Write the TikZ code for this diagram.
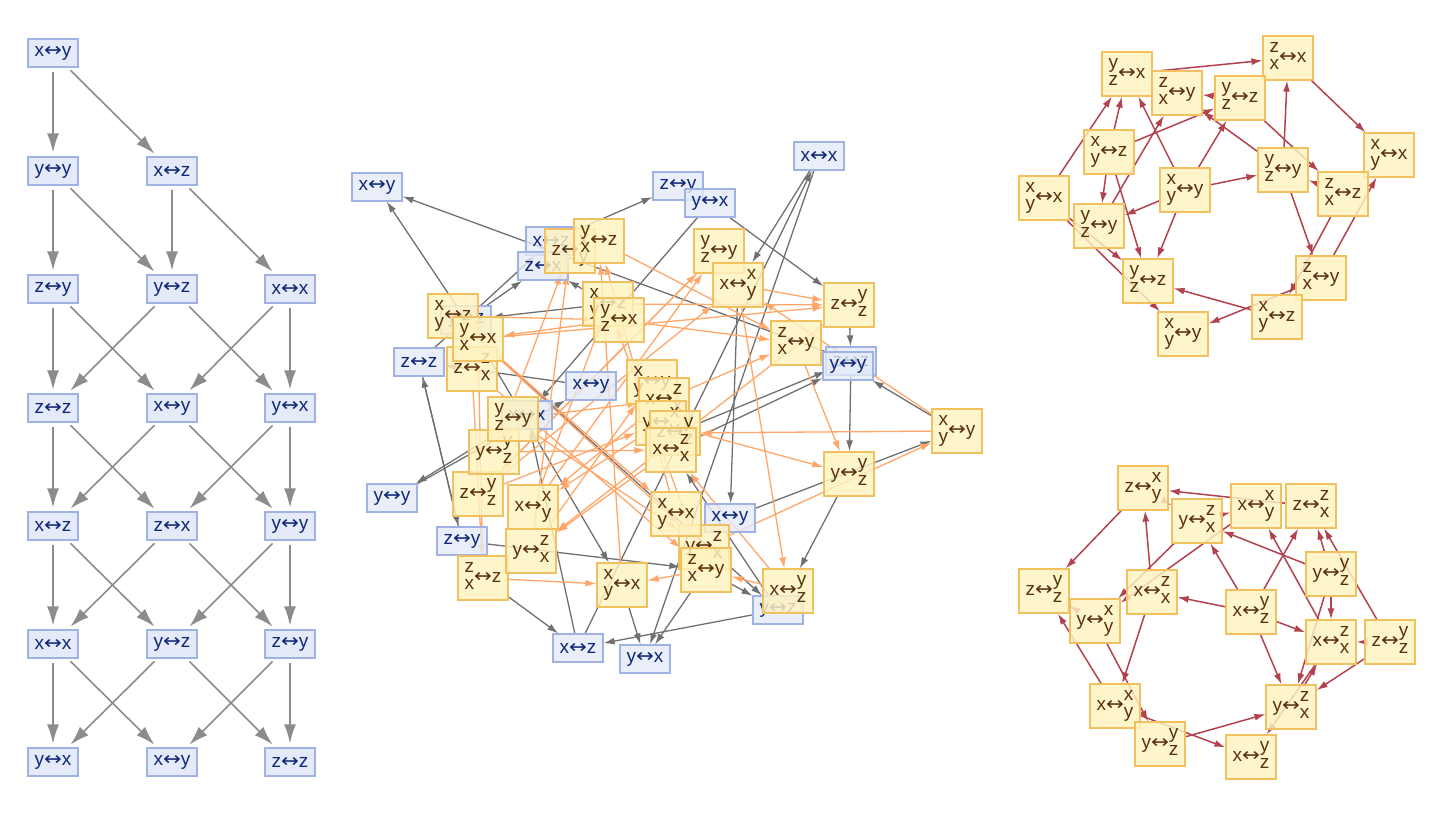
\documentclass[tikz,border=0pt]{standalone}
\usepackage{fontspec}
\setmainfont{Liberation Sans}
\newfontfamily\arrfont{DejaVu Sans}
\usetikzlibrary{arrows.meta,backgrounds}
\definecolor{bfill}{RGB}{228,234,248}
\definecolor{bline}{RGB}{160,178,228}
\definecolor{btext}{RGB}{16,40,120}
\definecolor{yfill}{RGB}{255,243,192}
\definecolor{yline}{RGB}{243,192,96}
\definecolor{ytext}{RGB}{90,50,15}
\definecolor{lgray}{RGB}{140,140,140}
\definecolor{mgray}{RGB}{112,112,112}
\definecolor{morange}{RGB}{255,166,104}
\definecolor{rred}{RGB}{178,66,78}
\newcommand{\stk}[2]{\begin{tabular}{@{}l@{}}#1\\#2\end{tabular}}
\catcode`↔=\active
\def↔{\mbox{\scalebox{1.12}[1]{\arrfont\char"2194}}}

\begin{document}
\begin{tikzpicture}[x=1pt,y=-1pt,
  every node/.style={font=\fontsize{19}{17}\selectfont, inner sep=1pt},
  bnode/.style={draw=bline, fill=bfill, text=btext, line width=1.2pt, minimum width=50pt, minimum height=28pt},
  mbnode/.style={bnode, fill opacity=0.8, text opacity=1},
  ynode/.style={draw=yline, fill=yfill, text=ytext, line width=1.2pt, minimum width=50pt, minimum height=44pt, fill opacity=0.82, text opacity=1},
  ledge/.style={color=lgray, line width=1.6pt, -{Latex[length=19pt,width=12pt]}, shorten <=4pt, shorten >=4pt},
  gedge/.style={color=mgray, line width=1.3pt, -{Latex[length=11pt,width=7pt]}},
  oedge/.style={color=morange, line width=1.3pt, -{Latex[length=11pt,width=7pt]}},
  redge/.style={color=rred, line width=1.5pt, -{Latex[length=11pt,width=7pt]}}]
	\useasboundingbox (0,0) rectangle (1444,816);
	% left: layered graph
	\node[bnode] (L00) at (53,53) {x↔y};
	\node[bnode] (L10) at (53,171) {y↔y};
	\node[bnode] (L11) at (172,171) {x↔z};
	\node[bnode] (L20) at (53,289) {z↔y};
	\node[bnode] (L21) at (172,289) {y↔z};
	\node[bnode] (L22) at (290,289) {x↔x};
	\node[bnode] (L30) at (53,408) {z↔z};
	\node[bnode] (L31) at (172,408) {x↔y};
	\node[bnode] (L32) at (290,408) {y↔x};
	\node[bnode] (L40) at (53,526) {x↔z};
	\node[bnode] (L41) at (172,526) {z↔x};
	\node[bnode] (L42) at (290,526) {y↔y};
	\node[bnode] (L50) at (53,644) {x↔x};
	\node[bnode] (L51) at (172,644) {y↔z};
	\node[bnode] (L52) at (290,644) {z↔y};
	\node[bnode] (L60) at (53,762) {y↔x};
	\node[bnode] (L61) at (172,762) {x↔y};
	\node[bnode] (L62) at (290,762) {z↔z};
	\draw[ledge] (L00) -- (L10);
	\draw[ledge] (L00) -- (L11);
	\draw[ledge] (L10) -- (L20);
	\draw[ledge] (L10) -- (L21);
	\draw[ledge] (L11) -- (L21);
	\draw[ledge] (L11) -- (L22);
	\draw[ledge] (L20) -- (L30);
	\draw[ledge] (L20) -- (L31);
	\draw[ledge] (L21) -- (L30);
	\draw[ledge] (L21) -- (L32);
	\draw[ledge] (L22) -- (L31);
	\draw[ledge] (L22) -- (L32);
	\draw[ledge] (L30) -- (L40);
	\draw[ledge] (L30) -- (L41);
	\draw[ledge] (L31) -- (L40);
	\draw[ledge] (L31) -- (L42);
	\draw[ledge] (L32) -- (L41);
	\draw[ledge] (L32) -- (L42);
	\draw[ledge] (L40) -- (L50);
	\draw[ledge] (L40) -- (L51);
	\draw[ledge] (L41) -- (L50);
	\draw[ledge] (L41) -- (L52);
	\draw[ledge] (L42) -- (L51);
	\draw[ledge] (L42) -- (L52);
	\draw[ledge] (L50) -- (L60);
	\draw[ledge] (L50) -- (L61);
	\draw[ledge] (L51) -- (L60);
	\draw[ledge] (L51) -- (L62);
	\draw[ledge] (L52) -- (L61);
	\draw[ledge] (L52) -- (L62);

	% middle: blue states
	\node[mbnode] (mb1) at (377,187) {x↔y};
	\node[mbnode] (mb2) at (678,186) {z↔y};
	\node[mbnode] (mb3) at (710,203) {y↔x};
	\node[mbnode] (mb4) at (819,156) {x↔x};
	\node[mbnode] (mb5) at (551,241) {x↔z};
	\node[mbnode] (mb6) at (543,266) {z↔x};
	\node[mbnode] (mb7) at (466,320) {y↔z};
	\node[mbnode] (mb8) at (419,362) {z↔z};
	\node[mbnode] (mb9) at (591,386) {x↔y};
	\node[mbnode] (mb10) at (527,415) {x↔x};
	\node[mbnode] (mb11) at (392,498) {y↔y};
	\node[mbnode] (mb12) at (462,541) {z↔y};
	\node[mbnode] (mb13) at (851,361) {z↔z};
	\node[mbnode] (mb14) at (848,366) {y↔y};
	\node[mbnode] (mb15) at (730,518) {x↔y};
	\node[mbnode] (mb16) at (778,610) {y↔z};
	\node[mbnode] (mb17) at (578,648) {x↔z};
	\node[mbnode] (mb18) at (645,659) {y↔x};
	% middle: yellow states
	\node[ynode] (my2) at (570,251) {z↔\stk{x}{y}};
	\node[ynode] (my1) at (599,241) {\stk{y}{x}↔z};
	\node[ynode] (my3) at (453,316) {\stk{x}{y}↔z};
	\node[ynode] (my5) at (472,369) {z↔\stk{z}{x}};
	\node[ynode] (my4) at (478,339) {\stk{y}{x}↔x};
	\node[ynode] (my6) at (608,304) {\stk{x}{y}↔z};
	\node[ynode] (my7) at (619,320) {\stk{y}{z}↔x};
	\node[ynode] (my8) at (719,251) {\stk{y}{z}↔y};
	\node[ynode] (my9) at (738,285) {x↔\stk{x}{y}};
	\node[ynode] (my10) at (849,305) {z↔\stk{y}{z}};
	\node[ynode] (my11) at (796,343) {\stk{z}{x}↔y};
	\node[ynode] (my12) at (957,431) {\stk{x}{y}↔y};
	\node[ynode] (my13) at (849,474) {y↔\stk{y}{z}};
	\node[ynode] (my14) at (788,591) {x↔\stk{y}{z}};
	\node[ynode] (my16) at (704,547) {y↔\stk{z}{x}};
	\node[ynode] (my15) at (706,570) {\stk{z}{x}↔y};
	\node[ynode] (my17) at (676,514) {\stk{x}{y}↔x};
	\node[ynode] (my18) at (622,585) {\stk{x}{y}↔x};
	\node[ynode] (my19) at (483,578) {\stk{z}{x}↔z};
	\node[ynode] (my20) at (531,551) {y↔\stk{z}{x}};
	\node[ynode] (my21) at (533,507) {x↔\stk{x}{y}};
	\node[ynode] (my22) at (478,494) {z↔\stk{y}{z}};
	\node[ynode] (my23) at (494,452) {y↔\stk{y}{z}};
	\node[ynode] (my24) at (513,419) {\stk{y}{z}↔y};
	\node[ynode] (my25) at (652,382) {\stk{x}{y}↔y};
	\node[ynode] (my26) at (664,400) {x↔\stk{z}{x}};
	\node[ynode] (my27) at (661,423) {y↔\stk{x}{y}};
	\node[ynode] (my28) at (675,433) {z↔\stk{y}{z}};
	\node[ynode] (my29) at (671,450) {x↔\stk{z}{x}};
	\begin{scope}[on background layer]
	\draw[gedge] (mb13) -- (mb1);
	\draw[gedge] (mb13) -- (my13);
	\draw[gedge] (mb7) -- (mb1);
	\draw[gedge] (mb7) -- (mb6);
	\draw[gedge] (mb5) -- (mb2);
	\draw[gedge] (mb3) -- (my10);
	\draw[gedge] (mb3) -- (mb10);
	\draw[gedge] (mb17) -- (mb4);
	\draw[gedge] (mb17) -- (mb10);
	\draw[gedge] (mb4) -- (my9);
	\draw[gedge] (mb4) -- (mb18);
	\draw[gedge] (my9) -- (mb15);
	\draw[gedge] (my12) -- (mb14);
	\draw[gedge] (mb15) -- (my12);
	\draw[gedge] (my13) -- (my14);
	\draw[gedge] (my28) -- (mb13);
	\draw[gedge] (my29) -- (mb14);
	\draw[gedge] (my15) -- (mb16);
	\draw[gedge] (my15) -- (mb18);
	\draw[gedge] (mb16) -- (mb17);
	\draw[gedge] (mb16) -- (my29);
	\draw[gedge] (my18) -- (mb18);
	\draw[gedge] (my19) -- (mb17);
	\draw[gedge] (mb12) -- (my15);
	\draw[gedge] (mb12) -- (mb8);
	\draw[gedge] (mb8) -- (mb12);
	\draw[gedge] (mb8) -- (mb5);
	\draw[gedge] (mb10) -- (mb11);
	\draw[gedge] (mb11) -- (mb9);
	\draw[gedge] (mb9) -- (mb8);
	\draw[gedge] (my6) -- (mb7);
	\draw[gedge] (my6) -- (mb6);
	\draw[gedge] (my4) -- (mb16);
	\draw[gedge] (my4) -- (my18);
	\draw[gedge] (my10) -- (mb13);
	\draw[oedge] (my4) -- (my10);
	\draw[oedge] (my4) -- (my16);
	\draw[oedge] (my9) -- (my10);
	\draw[oedge] (my9) -- (my14);
	\draw[oedge] (my7) -- (my11);
	\draw[oedge] (my7) -- (my4);
	\draw[oedge] (my26) -- (my11);
	\draw[oedge] (my26) -- (my21);
	\draw[oedge] (my11) -- (my13);
	\draw[oedge] (my12) -- (my28);
	\draw[oedge] (my12) -- (my9);
	\draw[oedge] (my27) -- (my13);
	\draw[oedge] (my27) -- (my21);
	\draw[oedge] (my16) -- (my12);
	\draw[oedge] (my14) -- (my15);
	\draw[oedge] (my14) -- (my29);
	\draw[oedge] (my15) -- (my18);
	\draw[oedge] (my15) -- (my6);
	\draw[oedge] (my19) -- (my18);
	\draw[oedge] (my19) -- (my4);
	\draw[oedge] (my5) -- (my19);
	\draw[oedge] (my5) -- (my15);
	\draw[oedge] (my22) -- (my8);
	\draw[oedge] (my22) -- (my27);
	\draw[oedge] (my22) -- (my9);
	\draw[oedge] (my21) -- (my8);
	\draw[oedge] (my21) -- (my6);
	\draw[oedge] (my23) -- (my2);
	\draw[oedge] (my23) -- (my29);
	\draw[oedge] (my20) -- (my2);
	\draw[oedge] (my20) -- (my25);
	\draw[oedge] (my18) -- (my1);
	\draw[oedge] (my17) -- (my1);
	\draw[oedge] (my29) -- (my20);
	\draw[oedge] (my24) -- (my16);
	\draw[oedge] (my24) -- (my26);
	\draw[oedge] (my3) -- (my17);
	\draw[oedge] (my3) -- (my7);
	\draw[oedge] (my10) -- (my20);
	\draw[oedge] (my8) -- (my22);
	\draw[oedge] (my1) -- (my11);
	\draw[oedge] (my6) -- (my10);
	\end{scope}

	% top right
	\node[ynode] (t1) at (1127,74) {\stk{y}{z}↔x};
	\node[ynode] (t2) at (1288,58) {\stk{z}{x}↔x};
	\node[ynode] (t3) at (1177,93) {\stk{z}{x}↔y};
	\node[ynode] (t4) at (1240,98) {\stk{y}{z}↔z};
	\node[ynode] (t5) at (1109,152) {\stk{x}{y}↔z};
	\node[ynode] (t6) at (1044,198) {\stk{x}{y}↔x};
	\node[ynode] (t7) at (1185,190) {\stk{x}{y}↔y};
	\node[ynode] (t8) at (1283,170) {\stk{y}{z}↔y};
	\node[ynode] (t9) at (1389,155) {\stk{x}{y}↔x};
	\node[ynode] (t10) at (1099,226) {\stk{y}{z}↔y};
	\node[ynode] (t11) at (1343,194) {\stk{z}{x}↔z};
	\node[ynode] (t12) at (1148,281) {\stk{y}{z}↔z};
	\node[ynode] (t13) at (1321,278) {\stk{z}{x}↔y};
	\node[ynode] (t14) at (1277,317) {\stk{x}{y}↔z};
	\node[ynode] (t15) at (1183,334) {\stk{x}{y}↔y};
	\begin{scope}[on background layer]
	\draw[redge] (t1) -- (t2);
	\draw[redge] (t2) -- (t9);
	\draw[redge] (t4) -- (t3);
	\draw[redge] (t4) -- (t11);
	\draw[redge] (t5) -- (t1);
	\draw[redge] (t5) -- (t4);
	\draw[redge] (t5) -- (t10);
	\draw[redge] (t5) -- (t12);
	\draw[redge] (t6) -- (t1);
	\draw[redge] (t6) -- (t12);
	\draw[redge] (t6) -- (t15);
	\draw[redge] (t7) -- (t1);
	\draw[redge] (t7) -- (t4);
	\draw[redge] (t7) -- (t8);
	\draw[redge] (t7) -- (t10);
	\draw[redge] (t7) -- (t12);
	\draw[redge] (t8) -- (t3);
	\draw[redge] (t8) -- (t2);
	\draw[redge] (t8) -- (t13);
	\draw[redge] (t10) -- (t3);
	\draw[redge] (t11) -- (t8);
	\draw[redge] (t11) -- (t14);
	\draw[redge] (t13) -- (t9);
	\draw[redge] (t13) -- (t15);
	\draw[redge] (t14) -- (t12);
	\end{scope}

	% bottom right
	\node[ynode] (u1) at (1143,488) {z↔\stk{x}{y}};
	\node[ynode] (u2) at (1197,521) {y↔\stk{z}{x}};
	\node[ynode] (u3) at (1256,506) {x↔\stk{x}{y}};
	\node[ynode] (u4) at (1311,506) {z↔\stk{z}{x}};
	\node[ynode] (u5) at (1044,591) {z↔\stk{y}{z}};
	\node[ynode] (u6) at (1095,621) {y↔\stk{x}{y}};
	\node[ynode] (u7) at (1152,592) {x↔\stk{z}{x}};
	\node[ynode] (u8) at (1251,612) {x↔\stk{y}{z}};
	\node[ynode] (u9) at (1331,574) {y↔\stk{y}{z}};
	\node[ynode] (u10) at (1331,642) {x↔\stk{z}{x}};
	\node[ynode] (u11) at (1390,642) {z↔\stk{y}{z}};
	\node[ynode] (u12) at (1115,706) {x↔\stk{x}{y}};
	\node[ynode] (u13) at (1291,707) {y↔\stk{z}{x}};
	\node[ynode] (u14) at (1160,744) {y↔\stk{y}{z}};
	\node[ynode] (u15) at (1251,757) {x↔\stk{y}{z}};
	\begin{scope}[on background layer]
	\draw[redge] (u4) -- (u1);
	\draw[redge] (u1) -- (u5);
	\draw[redge] (u1) -- (u2);
	\draw[redge] (u7) -- (u1);
	\draw[redge] (u7) -- (u12);
	\draw[redge] (u2) -- (u3);
	\draw[redge] (u2) -- (u6);
	\draw[redge] (u3) -- (u6);
	\draw[redge] (u9) -- (u2);
	\draw[redge] (u9) -- (u4);
	\draw[redge] (u9) -- (u10);
	\draw[redge] (u9) -- (u13);
	\draw[redge] (u8) -- (u2);
	\draw[redge] (u8) -- (u4);
	\draw[redge] (u8) -- (u7);
	\draw[redge] (u8) -- (u10);
	\draw[redge] (u8) -- (u13);
	\draw[redge] (u10) -- (u3);
	\draw[redge] (u10) -- (u15);
	\draw[redge] (u11) -- (u4);
	\draw[redge] (u11) -- (u10);
	\draw[redge] (u11) -- (u13);
	\draw[redge] (u13) -- (u10);
	\draw[redge] (u12) -- (u5);
	\draw[redge] (u12) -- (u15);
	\draw[redge] (u6) -- (u14);
	\draw[redge] (u14) -- (u13);
	\draw[redge] (u5) -- (u6);
	\end{scope}
\end{tikzpicture}
\end{document}
